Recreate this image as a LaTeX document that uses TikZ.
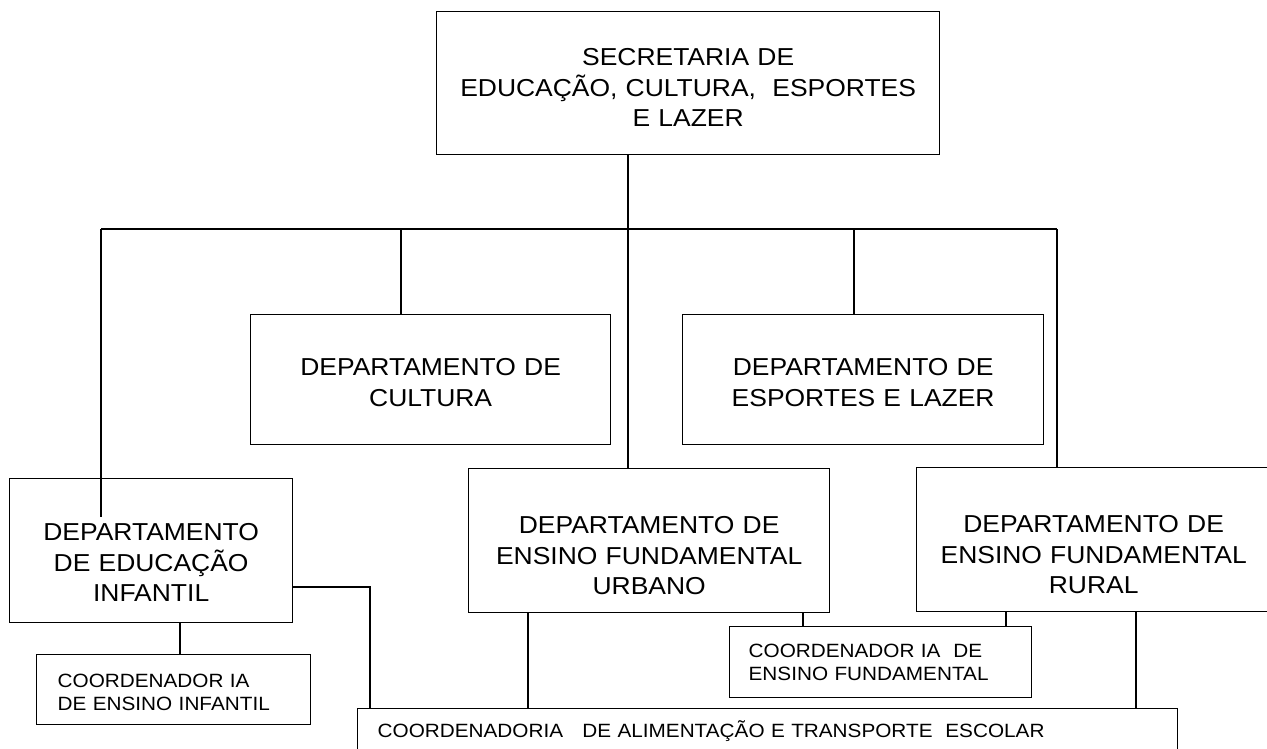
\documentclass[tikz,border=0pt]{standalone}
\usepackage{fontspec}
\setmainfont{Liberation Sans}[FakeStretch=1.08]
\frenchspacing
\newcommand{\deptfont}{\fontsize{24.5}{30.5}\selectfont}
\newcommand{\coordfont}{\fontsize{19.2}{23.3}\selectfont}
\tikzset{orgbox/.style = {draw, line width=1.3pt, anchor=north west, inner ysep=0pt}}
\tikzset{deptbox/.style = {orgbox, font=\deptfont, align=center, inner xsep=10pt}}
\tikzset{coordbox/.style = {orgbox, font=\coordfont, align=left}}
\tikzset{link/.style = {line width=1.3pt}}

\begin{document}
\begin{tikzpicture}[x=1pt, y=-1pt]
    \useasboundingbox (0, 0) rectangle (1267, 749);

    \node [deptbox, text width=483pt, text height=54pt, text depth=89pt] (sec) at (436, 11)
        {SECRETARIA DE\\EDUCAÇÃO, CULTURA,~ ESPORTES\\E LAZER};

    \node [deptbox, text width=340pt, text height=61pt, text depth=69pt] (cultura) at (250, 314)
        {DEPARTAMENTO DE\\CULTURA};
    \node [deptbox, text width=341pt, text height=61pt, text depth=69pt] (esportes) at (682, 314)
        {DEPARTAMENTO DE\\ESPORTES E LAZER};

    \node [deptbox, text width=263pt, text height=62pt, text depth=82pt] (infantil) at (9, 478)
        {DEPARTAMENTO\\DE EDUCAÇÃO\\INFANTIL};
    \node [deptbox, text width=341pt, text height=65pt, text depth=79pt] (urbano) at (468, 468)
        {DEPARTAMENTO DE\\ENSINO FUNDAMENTAL\\URBANO};
    \node [deptbox, text width=334pt, text height=65pt, text depth=79pt] (rural) at (916, 467)
        {DEPARTAMENTO DE\\ENSINO FUNDAMENTAL\\RURAL};

    \node [coordbox, inner xsep=21pt, text width=232pt, text height=33pt, text depth=37pt] (coordinf) at (36, 654)
        {COORDENADOR IA\\DE ENSINO INFANTIL};
    \node [coordbox, inner xsep=19pt, text width=264pt, text height=31pt, text depth=40pt] (coordfund) at (729, 626)
        {COORDENADOR IA~ DE\\ENSINO FUNDAMENTAL};
    \node [coordbox, inner xsep=20pt, text width=780pt, text height=29pt, text depth=31pt] (alim) at (357, 708)
        {COORDENADORIA~~ DE ALIMENTAÇÃO E TRANSPORTE~ ESCOLAR};

    % barra principal
    \coordinate (barL) at (101, 229);
    \coordinate (barR) at (1057, 229);
    \coordinate (hubA) at (401, 229);
    \coordinate (hubB) at (628, 229);
    \coordinate (hubC) at (854, 229);
    \coordinate (infTip) at (101, 517);
    \draw [link] (barL) -- (barR);
    \draw [link] (hubB |- sec.south) -- (hubB |- urbano.north);
    \draw [link] (hubA) -- (hubA |- cultura.north);
    \draw [link] (hubC) -- (hubC |- esportes.north);
    \draw [link] (barR) -- (barR |- rural.north);
    \draw [link] (barL) -- (infTip);

    % ligacoes de baixo
    \coordinate (dropI) at (180, 0);
    \coordinate (elbow) at (370, 587);
    \coordinate (dropU) at (528, 0);
    \coordinate (dropV) at (803, 0);
    \coordinate (dropR) at (1006, 0);
    \coordinate (dropS) at (1136, 0);
    \draw [link] (dropI |- infantil.south) -- (dropI |- coordinf.north);
    \draw [link] (elbow -| infantil.east) -- (elbow) -- (elbow |- alim.north);
    \draw [link] (dropU |- urbano.south) -- (dropU |- alim.north);
    \draw [link] (dropV |- urbano.south) -- (dropV |- coordfund.north);
    \draw [link] (dropR |- rural.south) -- (dropR |- coordfund.north);
    \draw [link] (dropS |- rural.south) -- (dropS |- alim.north);
\end{tikzpicture}
\end{document}
